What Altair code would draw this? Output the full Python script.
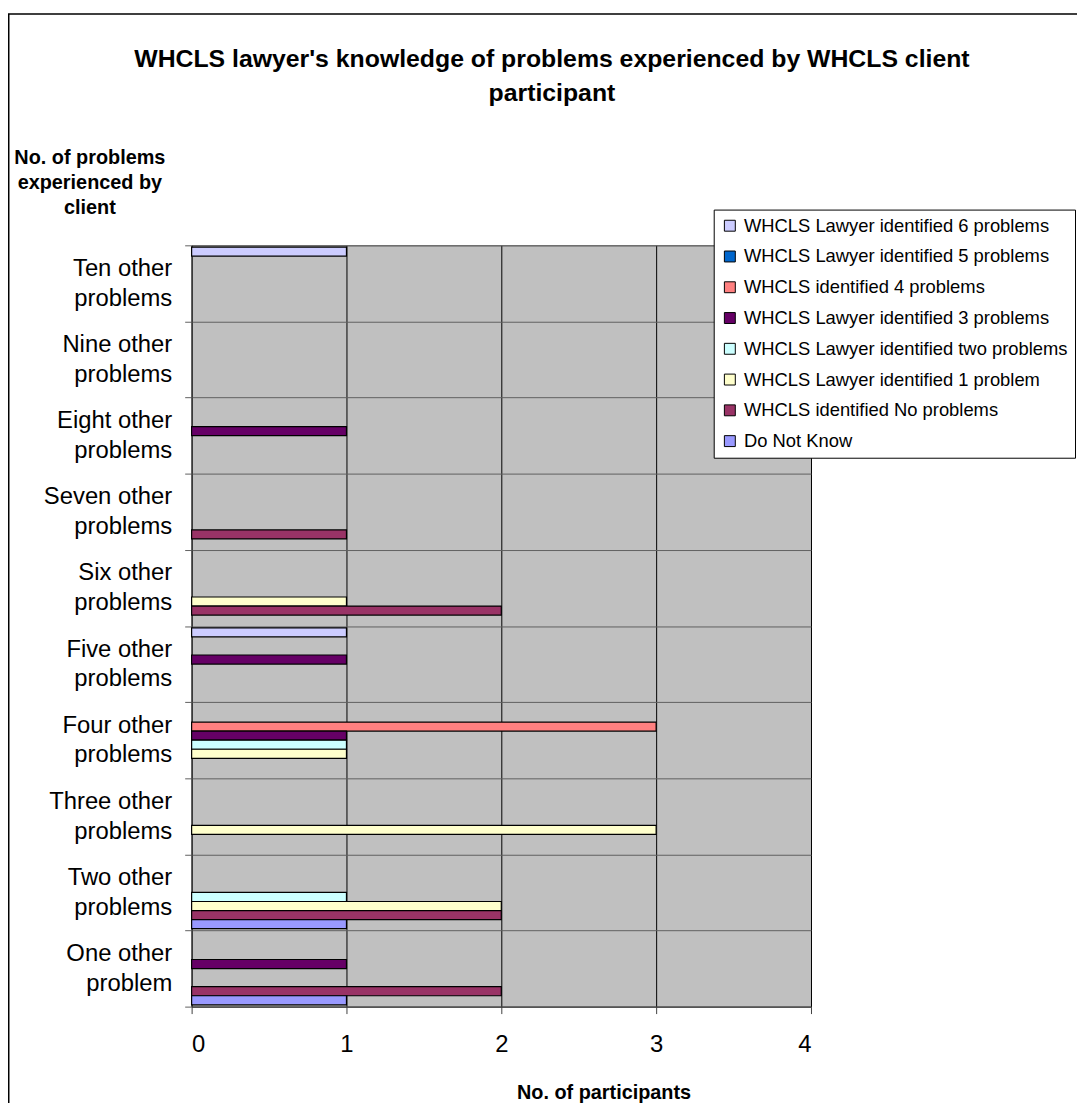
import altair as alt
import pandas as pd

# Categories, top to bottom
categories = [
    "Ten other problems", "Nine other problems", "Eight other problems",
    "Seven other problems", "Six other problems", "Five other problems",
    "Four other problems", "Three other problems", "Two other problems",
    "One other problem",
]

# Series, in legend order
series = [
    "WHCLS Lawyer identified 6 problems",
    "WHCLS Lawyer identified 5 problems",
    "WHCLS identified 4 problems",
    "WHCLS Lawyer identified 3 problems",
    "WHCLS Lawyer identified two problems",
    "WHCLS Lawyer identified 1 problem",
    "WHCLS identified No problems",
    "Do Not Know",
]
colors = ["#CCCCFF", "#0066CC", "#FF8080", "#660066", "#CCFFFF", "#FFFFCC", "#993366", "#9999FF"]

# Values per series, following the category order above
lawyer_6 = [1, 0, 0, 0, 0, 1, 0, 0, 0, 0]
lawyer_5 = [0, 0, 0, 0, 0, 0, 0, 0, 0, 0]
ident_4 = [0, 0, 0, 0, 0, 0, 3, 0, 0, 0]
lawyer_3 = [0, 0, 1, 0, 0, 1, 1, 0, 0, 1]
lawyer_2 = [0, 0, 0, 0, 0, 0, 1, 0, 1, 0]
lawyer_1 = [0, 0, 0, 0, 1, 0, 1, 3, 2, 0]
ident_0 = [0, 0, 0, 1, 2, 0, 0, 0, 2, 2]
dont_know = [0, 0, 0, 0, 0, 0, 0, 0, 1, 1]

x_ticks = [0, 1, 2, 3, 4]

all_values = [lawyer_6, lawyer_5, ident_4, lawyer_3, lawyer_2, lawyer_1, ident_0, dont_know]
rows = []
for s, vals in zip(series, all_values):
    for c, v in zip(categories, vals):
        rows.append({"category": c, "series": s, "value": v})
df = pd.DataFrame(rows)

FONT = "Liberation Sans"
W, H = 624, 767
PL, PT, PR, PB = 185, 235, 268, 93

split_expr = ("[substring(datum.label, 0, lastindexof(datum.label, ' ')), "
              "substring(datum.label, lastindexof(datum.label, ' ') + 1)]")

bars = alt.Chart(df).transform_filter("datum.value > 0").mark_bar(
    stroke="black", strokeWidth=1.2
).encode(
    x=alt.X(
        "value:Q",
        scale=alt.Scale(domain=[0, 4], nice=False),
        axis=alt.Axis(
            values=x_ticks, format="d",
            title="No. of participants",
            titleFont=FONT, titleFontSize=20, titleFontWeight="bold", titleColor="black",
            titleAlign="center", titleBaseline="alphabetic", titleX=415, titleY=93,
            labelFont=FONT, labelFontSize=24, labelColor="black", labelPadding=19,
            tickSize=7, tickColor="#404040", domainColor="#404040",
            grid=True, gridColor="#000000", gridWidth=1,
        ),
    ),
    y=alt.Y(
        "category:N",
        sort=categories,
        scale=alt.Scale(domain=categories, paddingInner=0, paddingOuter=0),
        axis=alt.Axis(
            title=["No. of problems", "experienced by", "client"],
            titleAngle=0, titleAlign="center", titleBaseline="alphabetic",
            titleX=-103, titleY=-82, titleLineHeight=25,
            titleFont=FONT, titleFontSize=20, titleFontWeight="bold", titleColor="black",
            labelExpr=split_expr,
            labelFont=FONT, labelFontSize=24, labelLineHeight=30, labelColor="black",
            labelPadding=13, labelAlign="right", labelBaseline="middle", labelLimit=300,
            labelOffset=-15,
            tickBand="extent", tickSize=7, tickColor="#606060",
            domainColor="#404040",
            grid=True, gridColor="#606060", gridWidth=1,
        ),
    ),
    yOffset=alt.YOffset(
        "series:N",
        sort=series,
        scale=alt.Scale(domain=series, paddingInner=0, paddingOuter=0.2),
    ),
    color=alt.Color(
        "series:N",
        scale=alt.Scale(domain=series, range=colors),
        legend=alt.Legend(
            title=None, orient="none", legendX=526, legendY=-36, direction="vertical",
            fillColor="white", strokeColor="black", padding=7, cornerRadius=0,
            symbolType="square", symbolSize=121, symbolStrokeColor="black",
            symbolStrokeWidth=1, symbolOpacity=1,
            labelFont=FONT, labelFontSize=18.5, labelColor="black", labelOffset=5,
            rowPadding=12, labelLimit=400,
        ),
    ),
)

frame = alt.Chart(pd.DataFrame({"f": [0]})).mark_rect(
    fillOpacity=0, stroke="black", strokeWidth=1.5
).encode(
    x=alt.value(-PL + 0.75),
    x2=alt.value(W + PR + 20),
    y=alt.value(-PT + 2.0),
    y2=alt.value(H + PB + 20),
)

chart = alt.layer(bars, frame).properties(
    width=W,
    height=H,
    padding={"left": PL, "top": PT, "right": PR, "bottom": PB},
    autosize=alt.AutoSizeParams(type="none"),
    background="white",
    title=alt.TitleParams(
        text=["WHCLS lawyer's knowledge of problems experienced by WHCLS client", "participant"],
        font=FONT, fontSize=25, fontWeight="bold", color="black",
        anchor="middle", frame="group", dx=51, lineHeight=34, offset=-93,
    ),
).configure_view(
    fill="#C0C0C0", stroke="#606060"
)

chart.save("out.html", embed_options={"renderer": "svg", "actions": False})
